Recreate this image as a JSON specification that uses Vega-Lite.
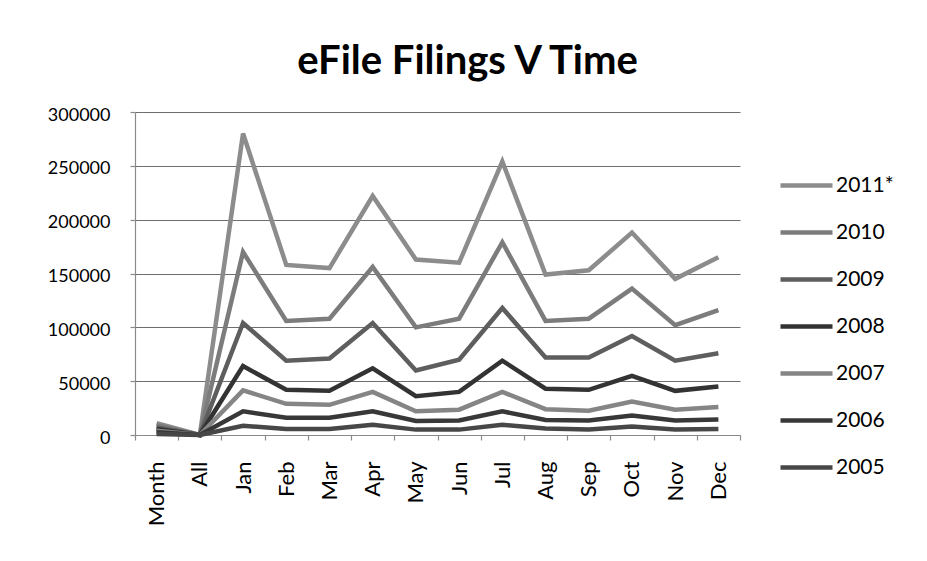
{
  "$schema": "https://vega.github.io/schema/vega-lite/v6.json",
  "autosize": "none",
  "width": 605,
  "height": 323,
  "padding": {"left": 135, "top": 112, "right": 187, "bottom": 126},
  "background": "white",
  "title": {"text": "eFile Filings V Time", "fontSize": 40, "fontWeight": "bold", "font": "Lato", "color": "#000000", "anchor": "middle", "dx": 30, "offset": 24},
  "config": {
    "font": "Lato",
    "view": {"stroke": null},
    "axis": {"labelFont": "Lato", "labelColor": "#000000", "domainColor": "#8a8a8a", "tickColor": "#8a8a8a", "domainWidth": 1.2, "tickWidth": 1.2}
  },
  "data": {
    "values": [
      {"month": "Month", "series": "2011*", "value": 11000},
      {"month": "All", "series": "2011*", "value": 0},
      {"month": "Jan", "series": "2011*", "value": 280000},
      {"month": "Feb", "series": "2011*", "value": 158000},
      {"month": "Mar", "series": "2011*", "value": 155000},
      {"month": "Apr", "series": "2011*", "value": 222000},
      {"month": "May", "series": "2011*", "value": 163000},
      {"month": "Jun", "series": "2011*", "value": 160000},
      {"month": "Jul", "series": "2011*", "value": 254000},
      {"month": "Aug", "series": "2011*", "value": 149000},
      {"month": "Sep", "series": "2011*", "value": 153000},
      {"month": "Oct", "series": "2011*", "value": 188000},
      {"month": "Nov", "series": "2011*", "value": 145000},
      {"month": "Dec", "series": "2011*", "value": 165000},
      {"month": "Month", "series": "2010", "value": 9000},
      {"month": "All", "series": "2010", "value": 0},
      {"month": "Jan", "series": "2010", "value": 170000},
      {"month": "Feb", "series": "2010", "value": 106000},
      {"month": "Mar", "series": "2010", "value": 108000},
      {"month": "Apr", "series": "2010", "value": 156000},
      {"month": "May", "series": "2010", "value": 100000},
      {"month": "Jun", "series": "2010", "value": 108000},
      {"month": "Jul", "series": "2010", "value": 179000},
      {"month": "Aug", "series": "2010", "value": 106000},
      {"month": "Sep", "series": "2010", "value": 108000},
      {"month": "Oct", "series": "2010", "value": 136000},
      {"month": "Nov", "series": "2010", "value": 102000},
      {"month": "Dec", "series": "2010", "value": 116000},
      {"month": "Month", "series": "2009", "value": 7000},
      {"month": "All", "series": "2009", "value": 0},
      {"month": "Jan", "series": "2009", "value": 104000},
      {"month": "Feb", "series": "2009", "value": 69000},
      {"month": "Mar", "series": "2009", "value": 71000},
      {"month": "Apr", "series": "2009", "value": 104000},
      {"month": "May", "series": "2009", "value": 60000},
      {"month": "Jun", "series": "2009", "value": 70000},
      {"month": "Jul", "series": "2009", "value": 118000},
      {"month": "Aug", "series": "2009", "value": 72000},
      {"month": "Sep", "series": "2009", "value": 72000},
      {"month": "Oct", "series": "2009", "value": 92000},
      {"month": "Nov", "series": "2009", "value": 69000},
      {"month": "Dec", "series": "2009", "value": 76000},
      {"month": "Month", "series": "2008", "value": 5500},
      {"month": "All", "series": "2008", "value": 0},
      {"month": "Jan", "series": "2008", "value": 64000},
      {"month": "Feb", "series": "2008", "value": 42000},
      {"month": "Mar", "series": "2008", "value": 41000},
      {"month": "Apr", "series": "2008", "value": 62000},
      {"month": "May", "series": "2008", "value": 36000},
      {"month": "Jun", "series": "2008", "value": 40000},
      {"month": "Jul", "series": "2008", "value": 69000},
      {"month": "Aug", "series": "2008", "value": 43000},
      {"month": "Sep", "series": "2008", "value": 42000},
      {"month": "Oct", "series": "2008", "value": 55000},
      {"month": "Nov", "series": "2008", "value": 41000},
      {"month": "Dec", "series": "2008", "value": 45000},
      {"month": "Month", "series": "2007", "value": 4000},
      {"month": "All", "series": "2007", "value": 0},
      {"month": "Jan", "series": "2007", "value": 41500},
      {"month": "Feb", "series": "2007", "value": 29000},
      {"month": "Mar", "series": "2007", "value": 28000},
      {"month": "Apr", "series": "2007", "value": 40000},
      {"month": "May", "series": "2007", "value": 22000},
      {"month": "Jun", "series": "2007", "value": 23500},
      {"month": "Jul", "series": "2007", "value": 40000},
      {"month": "Aug", "series": "2007", "value": 24000},
      {"month": "Sep", "series": "2007", "value": 22500},
      {"month": "Oct", "series": "2007", "value": 31000},
      {"month": "Nov", "series": "2007", "value": 23500},
      {"month": "Dec", "series": "2007", "value": 26000},
      {"month": "Month", "series": "2006", "value": 2500},
      {"month": "All", "series": "2006", "value": 0},
      {"month": "Jan", "series": "2006", "value": 22000},
      {"month": "Feb", "series": "2006", "value": 16000},
      {"month": "Mar", "series": "2006", "value": 16000},
      {"month": "Apr", "series": "2006", "value": 22000},
      {"month": "May", "series": "2006", "value": 13000},
      {"month": "Jun", "series": "2006", "value": 13500},
      {"month": "Jul", "series": "2006", "value": 22000},
      {"month": "Aug", "series": "2006", "value": 14000},
      {"month": "Sep", "series": "2006", "value": 13500},
      {"month": "Oct", "series": "2006", "value": 18000},
      {"month": "Nov", "series": "2006", "value": 13500},
      {"month": "Dec", "series": "2006", "value": 14500},
      {"month": "Month", "series": "2005", "value": 1000},
      {"month": "All", "series": "2005", "value": 0},
      {"month": "Jan", "series": "2005", "value": 8600},
      {"month": "Feb", "series": "2005", "value": 5600},
      {"month": "Mar", "series": "2005", "value": 5600},
      {"month": "Apr", "series": "2005", "value": 9500},
      {"month": "May", "series": "2005", "value": 5000},
      {"month": "Jun", "series": "2005", "value": 5000},
      {"month": "Jul", "series": "2005", "value": 9500},
      {"month": "Aug", "series": "2005", "value": 6000},
      {"month": "Sep", "series": "2005", "value": 5000},
      {"month": "Oct", "series": "2005", "value": 8000},
      {"month": "Nov", "series": "2005", "value": 5000},
      {"month": "Dec", "series": "2005", "value": 5600}
    ]
  },
  "mark": {"type": "line", "strokeWidth": 4.5, "strokeJoin": "miter"},
  "encoding": {
    "x": {
      "field": "month",
      "type": "nominal",
      "bandPosition": 0.5,
      "scale": {"type": "band", "paddingInner": 0, "paddingOuter": 0, "domain": ["Month", "All", "Jan", "Feb", "Mar", "Apr", "May", "Jun", "Jul", "Aug", "Sep", "Oct", "Nov", "Dec"]},
      "axis": {"title": null, "labelAngle": -90, "labelFontSize": 22, "labelPadding": 21, "tickSize": 5, "tickBand": "extent", "grid": false, "labelAlign": "right", "labelBaseline": "middle"}
    },
    "y": {
      "field": "value",
      "type": "quantitative",
      "scale": {"domain": [0, 300000], "nice": false},
      "axis": {"title": null, "values": [0, 50000, 100000, 150000, 200000, 250000, 300000], "format": "d", "labelFontSize": 18, "labelPadding": 20, "labelOffset": 3, "tickSize": 5, "grid": true, "gridColor": "#6e6e6e", "gridWidth": 1.2}
    },
    "color": {
      "field": "series",
      "type": "nominal",
      "sort": ["2011*", "2010", "2009", "2008", "2007", "2006", "2005"],
      "scale": {"domain": ["2011*", "2010", "2009", "2008", "2007", "2006", "2005"], "range": ["#8c8c8c", "#7c7c7c", "#5e5e5e", "#333333", "#858585", "#383838", "#474747"]},
      "legend": {"title": null, "orient": "none", "legendX": 643, "legendY": 45, "symbolType": "stroke", "symbolSize": 2704, "symbolStrokeWidth": 4.5, "labelFontSize": 21, "labelOffset": 1, "rowPadding": 8, "labelColor": "#000000"}
    }
  }
}
